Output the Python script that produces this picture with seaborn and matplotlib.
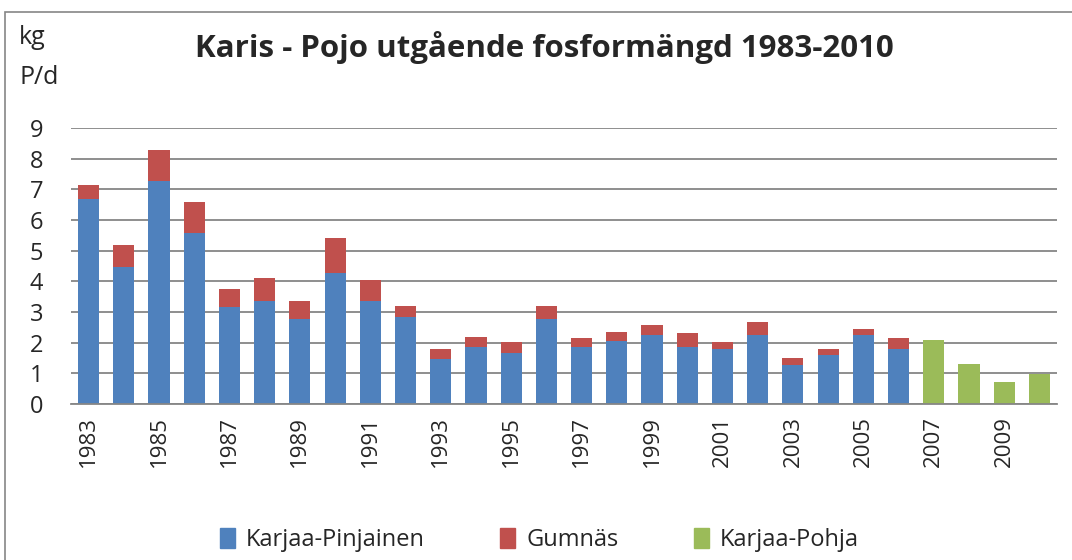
import matplotlib
matplotlib.use("Agg")
import numpy as np
import pandas as pd
import matplotlib.pyplot as plt
import seaborn as sns
from matplotlib.patches import Patch, Rectangle

# Values (kg P/d)
years = [str(y) for y in range(1983, 2011)]
nan = np.nan
karjaa_pinjainen = [6.69, 4.47, 7.28, 5.58, 3.17, 3.36, 2.77, 4.28, 3.36, 2.84,
                    1.47, 1.86, 1.66, 2.77, 1.86, 2.06, 2.25, 1.86, 1.80, 2.25,
                    1.27, 1.60, 2.25, 1.80, nan, nan, nan, nan]
gumnas = [0.46, 0.72, 1.01, 1.01, 0.58, 0.75, 0.59, 1.14, 0.69, 0.36,
          0.33, 0.33, 0.36, 0.43, 0.29, 0.29, 0.33, 0.46, 0.22, 0.43,
          0.23, 0.20, 0.20, 0.35, nan, nan, nan, nan]
karjaa_pohja = [nan] * 24 + [2.09, 1.31, 0.72, 0.98]
tick_years = years[::2]

BLUE, RED, GREEN = "#4F81BD", "#C0504D", "#9BBB59"

df = pd.DataFrame({"year": years, "pinjainen": karjaa_pinjainen,
                   "gumnas": gumnas, "pohja": karjaa_pohja})
df["total"] = df["pinjainen"] + df["gumnas"]

sns.set_style("white")
plt.rcParams["font.family"] = ["Open Sans", "DejaVu Sans"]

fig = plt.figure(figsize=(10.72, 5.6), dpi=100)
ax = fig.add_axes([0.0662, 0.2786, 0.9198, 0.4928])

# stacked bars: total (red) first, blue over it, green separately
common = dict(x="year", order=years, width=0.6, saturation=1, errorbar=None,
              linewidth=0, ax=ax)
sns.barplot(data=df, y="total", color=RED, **common)
sns.barplot(data=df, y="pinjainen", color=BLUE, **common)
sns.barplot(data=df, y="pohja", color=GREEN, **common)

ax.set_ylim(0, 9)
ax.set_xlim(-0.5, len(years) - 0.5)
ax.set_yticks(range(0, 10))
ax.yaxis.grid(True, color="#868686", linewidth=1.3)
ax.set_axisbelow(True)
ax.set_xticks([years.index(y) for y in tick_years])
ax.set_xticklabels(tick_years, rotation=90, fontsize=16)
ax.tick_params(axis="y", labelsize=17, length=0, pad=20)
ax.tick_params(axis="x", length=0, pad=9)
ax.set_xlabel("")
ax.set_ylabel("")
for side in ["top", "right", "left"]:
    ax.spines[side].set_visible(False)
ax.spines["bottom"].set_color("#868686")
ax.spines["bottom"].set_linewidth(1.3)

fig.text(0.508, 1 - 47 / 560, "Karis - Pojo utgående fosformängd 1983-2010",
         ha="center", va="center", fontsize=22.5, fontweight="bold")
fig.text(19 / 1072, 1 - 37 / 560, "kg", ha="left", va="center", fontsize=18)
fig.text(19 / 1072, 1 - 77 / 560, "P/d", ha="left", va="center", fontsize=18)

handles = [Patch(color=BLUE, label="Karjaa-Pinjainen"),
           Patch(color=RED, label="Gumnäs"),
           Patch(color=GREEN, label="Karjaa-Pohja")]
fig.legend(handles=handles, loc="center", bbox_to_anchor=(0.503, 1 - 540 / 560),
           ncol=3, frameon=False, fontsize=17, handlelength=0.65, handleheight=0.9,
           handletextpad=0.45, columnspacing=3.2)

# chart frame
fig.patches.append(Rectangle((5 / 1072, -0.1), 1.1, 1 - 12 / 560 + 0.1,
                             transform=fig.transFigure, fill=False,
                             edgecolor="#868686", linewidth=1.2))

fig.savefig("out.png", dpi=100)
